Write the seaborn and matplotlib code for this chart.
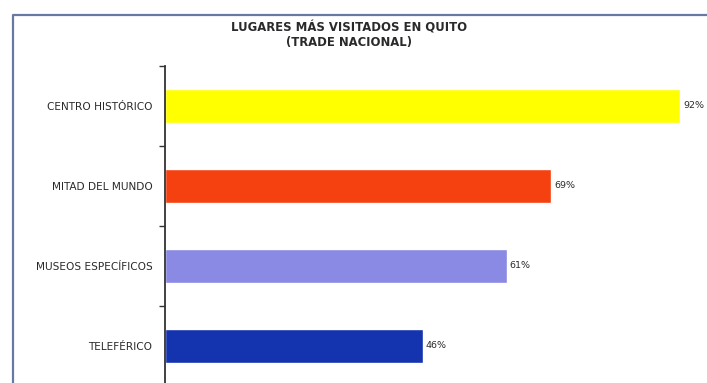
import matplotlib
matplotlib.use("Agg")
import matplotlib.pyplot as plt
from matplotlib.lines import Line2D
import seaborn as sns
import pandas as pd

# Data
lugares = ["CENTRO HISTÓRICO", "MITAD DEL MUNDO", "MUSEOS ESPECÍFICOS", "TELEFÉRICO"]
porcentajes = [92, 69, 61, 46]
colores = ["#FFFF00", "#F5400F", "#8A8AE4", "#1433AE"]
titulo = "LUGARES MÁS VISITADOS EN QUITO\n(TRADE NACIONAL)"

sns.set_theme(style="white")
plt.rcParams["font.family"] = ["DejaVu Sans"]

W, H = 707, 383
fig = plt.figure(figsize=(W / 100, H / 100), dpi=100)
fig.patch.set_facecolor("white")

# Plot area in pixel coordinates
x0, x1 = 165, 707
y_top, y_bot = 66, 386
ax = fig.add_axes([x0 / W, 1 - y_bot / H, (x1 - x0) / W, (y_bot - y_top) / H])

df = pd.DataFrame({"lugar": lugares, "pct": porcentajes})
sns.barplot(data=df, x="pct", y="lugar", hue="lugar", palette=colores,
            orient="h", width=0.42, saturation=1, legend=False, ax=ax,
            order=lugares, hue_order=lugares)

ax.set_xlim(0, (x1 - x0) / 5.6)
ax.set_ylim(len(lugares) - 0.5, -0.5)
ax.set_xlabel("")
ax.set_ylabel("")
ax.set_xticks([])

for s in ["top", "right", "bottom"]:
    ax.spines[s].set_visible(False)
ax.spines["left"].set_color("#333333")
ax.spines["left"].set_linewidth(1.3)

# Category labels without tick marks, tick marks between categories
ax.tick_params(axis="y", which="major", left=True, length=0, pad=9,
               labelsize=7.6, labelcolor="#2a2a2a")
ax.set_yticks([i - 0.5 for i in range(len(lugares) + 1)], minor=True)
ax.tick_params(axis="y", which="minor", left=True, length=4, width=1,
               color="#333333", direction="out")
ax.set_facecolor("white")

# Value labels at bar ends
for i, v in enumerate(porcentajes):
    ax.text(v + 0.5, i, f"{v}%", va="center", ha="left", fontsize=6.8,
            color="#2a2a2a")

# Title
fig.text(349 / W, 1 - 35 / H, titulo, ha="center", va="center",
         fontsize=8.4, fontweight="bold", color="#2a2a2a", linespacing=1.12)

# Chart frame (left and top edges)
frame = Line2D([13 / W, 13 / W, 1.0], [0.0, 1 - 15 / H, 1 - 15 / H],
               transform=fig.transFigure, color="#6878A0", linewidth=1.6)
fig.add_artist(frame)

fig.savefig("out.png", dpi=100, facecolor="white")
